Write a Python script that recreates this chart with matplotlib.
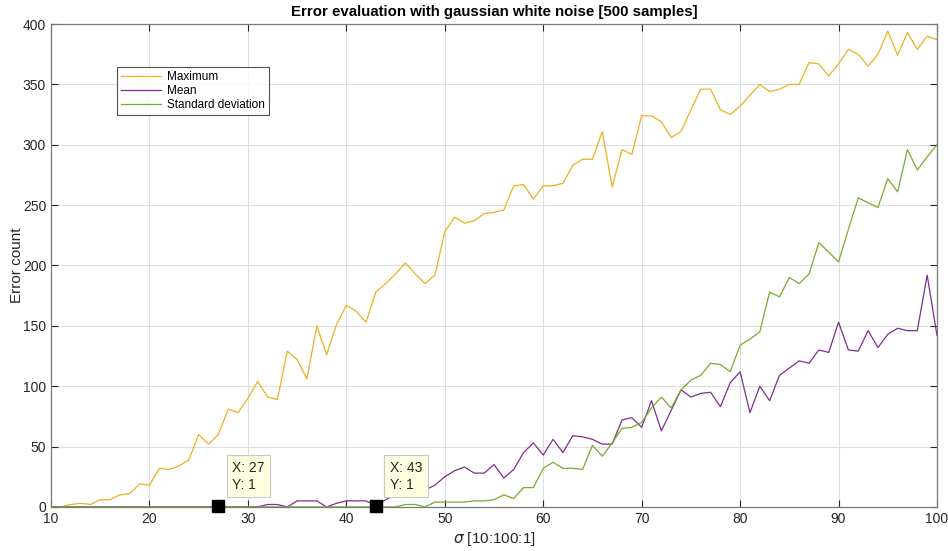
import numpy as np
import matplotlib
matplotlib.use("Agg")
import matplotlib.pyplot as plt

plt.rcParams['font.family'] = ['Liberation Sans', 'DejaVu Sans']

sigma = np.arange(10, 101)

max_err = [0, 0, 2, 3, 2, 6, 6, 10, 11, 19,
           18, 32, 31, 34, 39, 60, 52, 60, 81, 78,
           90, 104, 91, 89, 129, 122, 106, 150, 126, 151,
           167, 162, 153, 178, 185, 193, 202, 193, 185, 192,
           228, 240, 235, 237, 243, 244, 246, 266, 267, 255,
           266, 266, 268, 283, 288, 288, 311, 265, 296, 292,
           324, 324, 319, 306, 311, 329, 346, 346, 329, 325,
           332, 341, 350, 344, 346, 350, 350, 368, 367, 357,
           367, 379, 375, 365, 375, 394, 374, 393, 379, 390,
           387]

mean_err = [0, 0, 0, 0, 0, 0, 0, 0, 0, 0,
            0, 0, 0, 0, 0, 0, 0, 1, 0, 0,
            0, 0, 2, 2, 0, 5, 5, 5, 0, 3,
            5, 5, 5, 1, 6, 10, 13, 14, 14, 18,
            25, 30, 33, 28, 28, 35, 24, 31, 45, 53,
            43, 56, 45, 59, 58, 56, 52, 52, 72, 74,
            66, 88, 63, 80, 97, 91, 94, 95, 83, 103,
            112, 78, 100, 88, 109, 115, 121, 119, 130, 128,
            153, 130, 129, 146, 132, 143, 148, 146, 146, 192,
            142]

std_err = [0, 0, 0, 0, 0, 0, 0, 0, 0, 0,
           0, 0, 0, 0, 0, 0, 0, 0, 0, 0,
           0, 0, 0, 0, 0, 0, 0, 0, 0, 0,
           0, 0, 0, 0, 0, 0, 2, 2, 0, 4,
           4, 4, 4, 5, 5, 6, 10, 7, 16, 16,
           32, 37, 32, 32, 31, 51, 42, 53, 65, 66,
           70, 82, 91, 82, 97, 105, 109, 119, 118, 112,
           134, 139, 145, 178, 174, 190, 185, 193, 219, 211,
           203, 230, 256, 252, 248, 272, 261, 296, 279, 290,
           300]

# data tips placed on the mean curve
tips_x = [27, 43]

axis_col = '#262626'

fig = plt.figure(figsize=(9.48, 5.51), dpi=100)
ax = fig.add_axes([0.0538, 0.080, 0.9346, 0.8764])

ax.plot(sigma, max_err, color='#EDB120', lw=0.9, label='Maximum')
ax.plot(sigma, mean_err, color='#7E2F8E', lw=0.9, label='Mean')
ax.plot(sigma, std_err, color='#77AC30', lw=0.9, label='Standard deviation')

ax.set_xlim(10, 100)
ax.set_ylim(0, 400)
ax.set_xticks(np.arange(10, 101, 10))
ax.set_yticks(np.arange(0, 401, 50))
ax.grid(True, color='#dedede', lw=0.8)
ax.set_axisbelow(True)
ax.tick_params(direction='in', top=True, right=True, length=5,
               labelsize=10, colors=axis_col, labelcolor=axis_col)
for sp in ax.spines.values():
    sp.set_color('#7a7a7a')
    sp.set_linewidth(0.9)

ax.set_title('Error evaluation with gaussian white noise [500 samples]',
             fontsize=10.8, fontweight='bold', color='black', pad=6)
ax.set_xlabel(r'$\sigma$ [10:100:1]', fontsize=11, color=axis_col, labelpad=3)
ax.set_ylabel('Error count', fontsize=11, color=axis_col)
ax.yaxis.set_label_coords(-0.030, 0.5)

leg = ax.legend(loc='upper left', bbox_to_anchor=(0.0745, 0.911), fontsize=8.5,
                frameon=True, fancybox=False, handlelength=3.4,
                borderpad=0.35, labelspacing=0.15, handletextpad=0.5,
                borderaxespad=0)
leg.get_frame().set_edgecolor('#262626')
leg.get_frame().set_linewidth(0.8)

mean_arr = np.array(mean_err)
for tx in tips_x:
    ty = mean_arr[sigma == tx][0]
    ax.plot(tx, ty, marker='s', color='black', ms=8, clip_on=False, zorder=5)
    ax.annotate(f'X: {tx}\nY: {ty}', xy=(tx, ty), xytext=(10, 10),
                textcoords='offset points', ha='left', va='bottom',
                fontsize=10, color=axis_col, linespacing=1.3,
                bbox=dict(boxstyle='square,pad=0.4', facecolor='#ffffe1',
                          edgecolor='#c8c8c8', linewidth=0.8), zorder=6)

fig.savefig('out.png', dpi=100)
